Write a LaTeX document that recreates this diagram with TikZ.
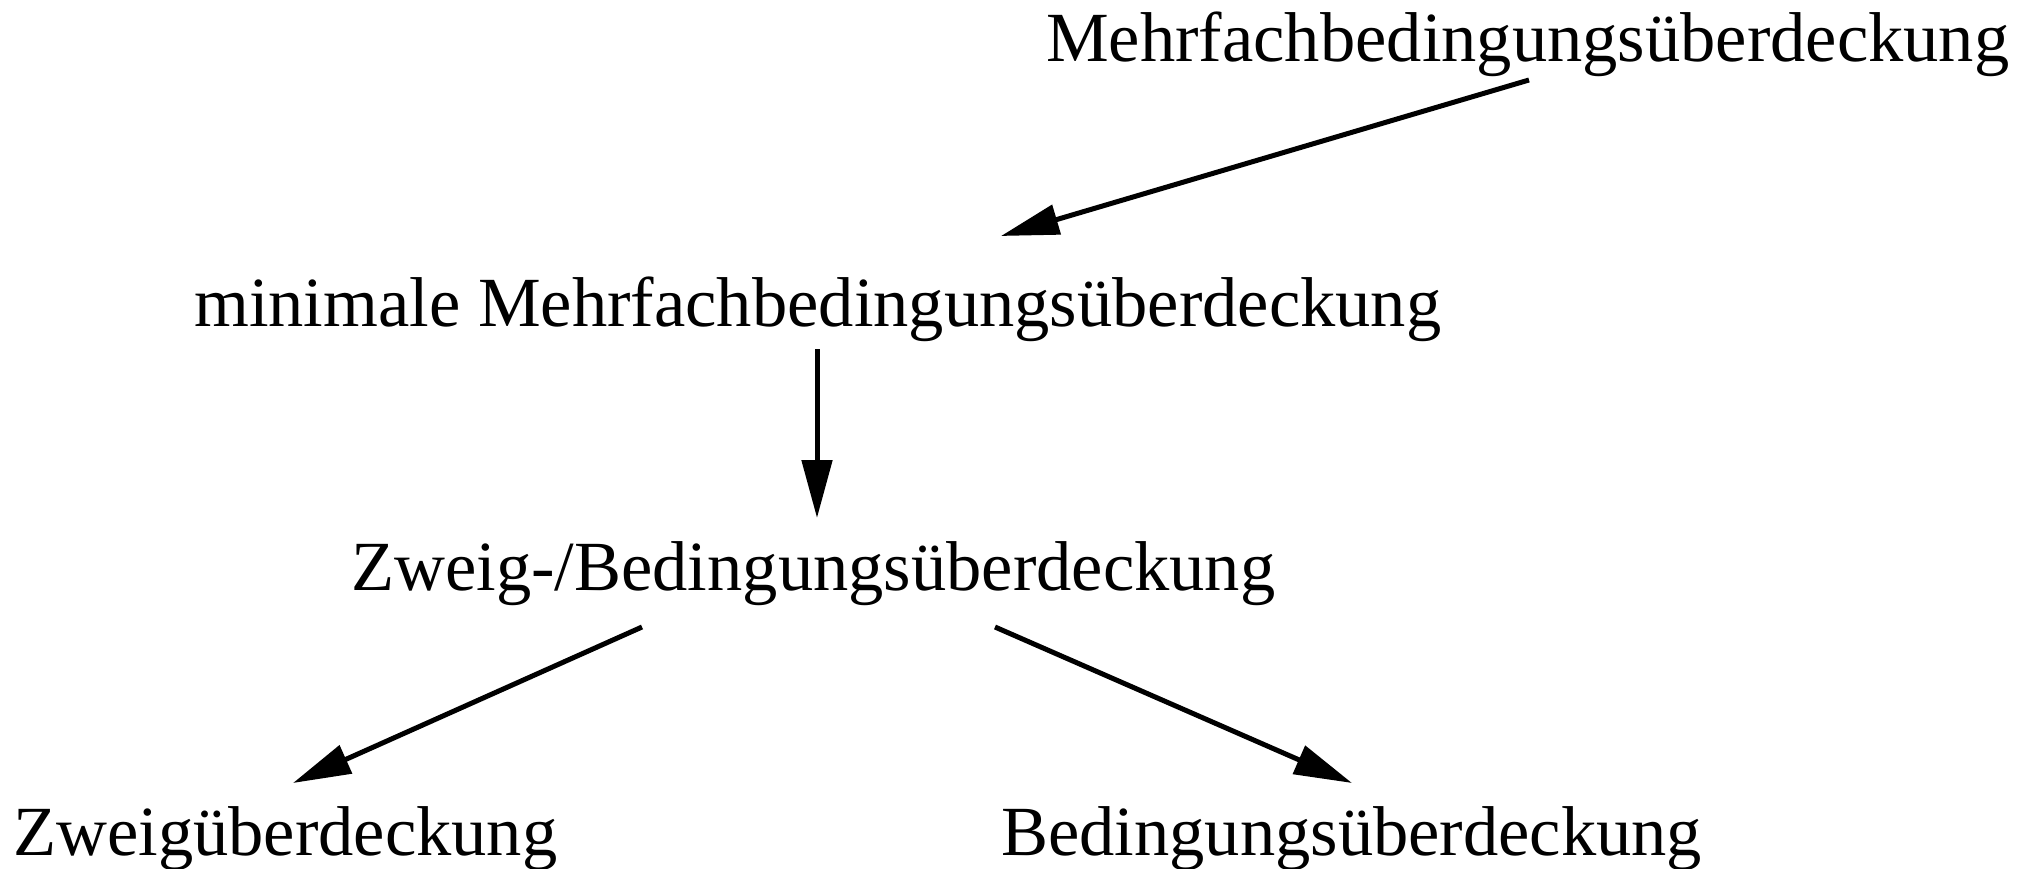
\documentclass[tikz,border=0pt]{standalone}
\usepackage{fontspec}
\setmainfont{Liberation Serif}
\usetikzlibrary{arrows.meta}
\begin{document}
\begin{tikzpicture}[x=1pt,y=-1pt,
  lbl/.style={anchor=base west,inner sep=0pt,font=\fontsize{70.5}{80}\selectfont},
  arr/.style={line width=5pt,-{Triangle[length=58pt,width=30pt]}}]
\useasboundingbox (0,0) rectangle (2026,869);
\node[lbl] (mcc) at (1046,62) {Mehrfachbedingungsüberdeckung};
\node[lbl] (mmcc) at (194,326) {minimale Mehrfachbedingungsüberdeckung};
\node[lbl] (bc) at (351,590) {Zweig-/Bedingungsüberdeckung};
\node[lbl] (zw) at (13,855) {Zweigüberdeckung};
\node[lbl] (bd) at (1001,855) {Bedingungsüberdeckung};
\coordinate (a1s) at (1529,80);
\coordinate (a1e) at (1001,236);
\coordinate (a2s) at (817,349);
\coordinate (a2e) at (817,518);
\coordinate (a3s) at (642,627);
\coordinate (a3e) at (293,783);
\coordinate (a4s) at (995,627);
\coordinate (a4e) at (1352,783);
\draw[arr] (a1s) -- (a1e);
\draw[arr] (a2s) -- (a2e);
\draw[arr] (a3s) -- (a3e);
\draw[arr] (a4s) -- (a4e);
\end{tikzpicture}
\end{document}
